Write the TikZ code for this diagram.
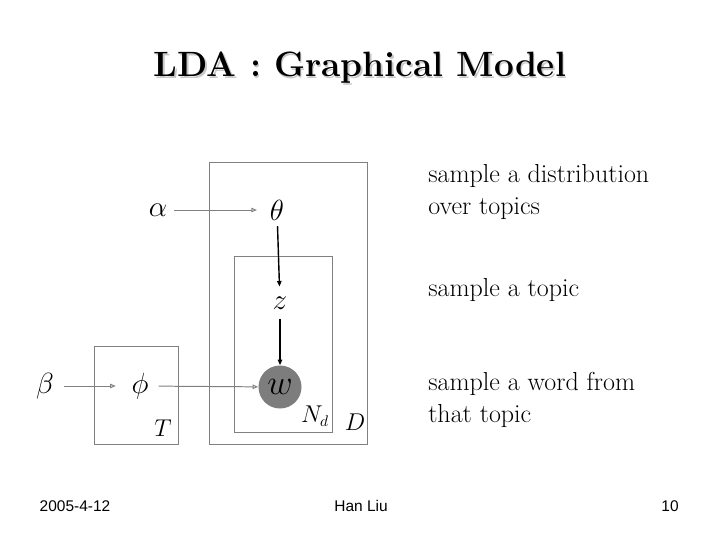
\documentclass[tikz,border=0pt]{standalone}
\usepackage{fontspec}
\newfontfamily\footfont{Liberation Sans}
\usetikzlibrary{arrows.meta}
\definecolor{plateGrey}{RGB}{128,128,128}
\definecolor{obsGrey}{RGB}{125,125,125}
\definecolor{shadowGrey}{RGB}{200,200,200}
\tikzset{
  varnode/.style={inner sep=1pt, font=\fontsize{21}{25}\selectfont},
  obsnode/.style={circle, fill=obsGrey, minimum size=43*0.025cm, inner sep=0pt,
    font=\fontsize{23}{27}\selectfont},
  platelabel/.style={inner sep=0pt, font=\fontsize{16}{19}\selectfont},
  plate/.style={draw=plateGrey, line width=0.6pt},
  notetext/.style={anchor=west, align=left, inner sep=0pt,
    font=\fontsize{18.5}{22.8}\selectfont},
  titletext/.style={font=\fontsize{25}{30}\selectfont\bfseries},
  foottext/.style={font=\footfont\fontsize{11}{13}\selectfont},
  hedge/.style={-{Triangle[open, length=1.4mm, width=1.1mm]}, draw=plateGrey, line width=0.7pt},
  vedge/.style={-{Triangle[open, length=1.4mm, width=1.1mm]}, draw=black, line width=1pt}
}
\begin{document}
\begin{tikzpicture}[x=0.025cm, y=-0.025cm]
    \useasboundingbox (0,0) rectangle (720,540);

    % ---- title -------------------------------------------------
    \node[titletext, text=shadowGrey] at (361.5,69.5) {LDA : Graphical Model};
    \node[titletext] (title) at (360,68) {LDA : Graphical Model};

    % ---- plates ------------------------------------------------
    \draw[plate] (94,346) rectangle (178,444);
    \draw[plate] (209,162) rectangle (367,444);
    \draw[plate] (234,256) rectangle (332,432);

    \node[platelabel] (T)  at (163,428) {$T$};
    \node[platelabel] (Nd) at (315,416) {$N_{d}$};
    \node[platelabel] (D)  at (355,422) {$D$};

    % ---- variables ---------------------------------------------
    \node[varnode] (alpha) at (158,210) {$\alpha$};
    \node[varnode] (theta) at (277,210) {$\theta$};
    \node[varnode] (z)     at (280,303) {$z$};
    \node[varnode] (beta)  at (45,386)  {$\beta$};
    \node[varnode] (phi)   at (140,386) {$\phi$};
    \node[obsnode] (w)     at (280,387) {$w$};

    % ---- edges -------------------------------------------------
    \draw[hedge, shorten <=4pt, shorten >=8pt] (alpha) -- (theta);
    \draw[vedge, shorten <=3pt, shorten >=6pt] (theta) -- (z);
    \draw[vedge, shorten <=6pt, shorten >=0pt] (z) -- (w);
    \draw[hedge, shorten <=6pt, shorten >=10pt] (beta) -- (phi);
    \draw[hedge, shorten <=6pt, shorten >=0pt] (phi) -- (w);

    % ---- notes -------------------------------------------------
    \node[notetext] (noteTheta) at (428,192) {sample a distribution\\over topics};
    \node[notetext] (noteZ)     at (428,290) {sample a topic};
    \node[notetext] (noteW)     at (428,400) {sample a word from\\that topic};

    % ---- footer ------------------------------------------------
    \node[foottext] (date)   at (75,506)  {2005-4-12};
    \node[foottext] (author) at (361,506) {Han Liu};
    \node[foottext] (page)   at (670,506) {10};

\end{tikzpicture}
\end{document}
